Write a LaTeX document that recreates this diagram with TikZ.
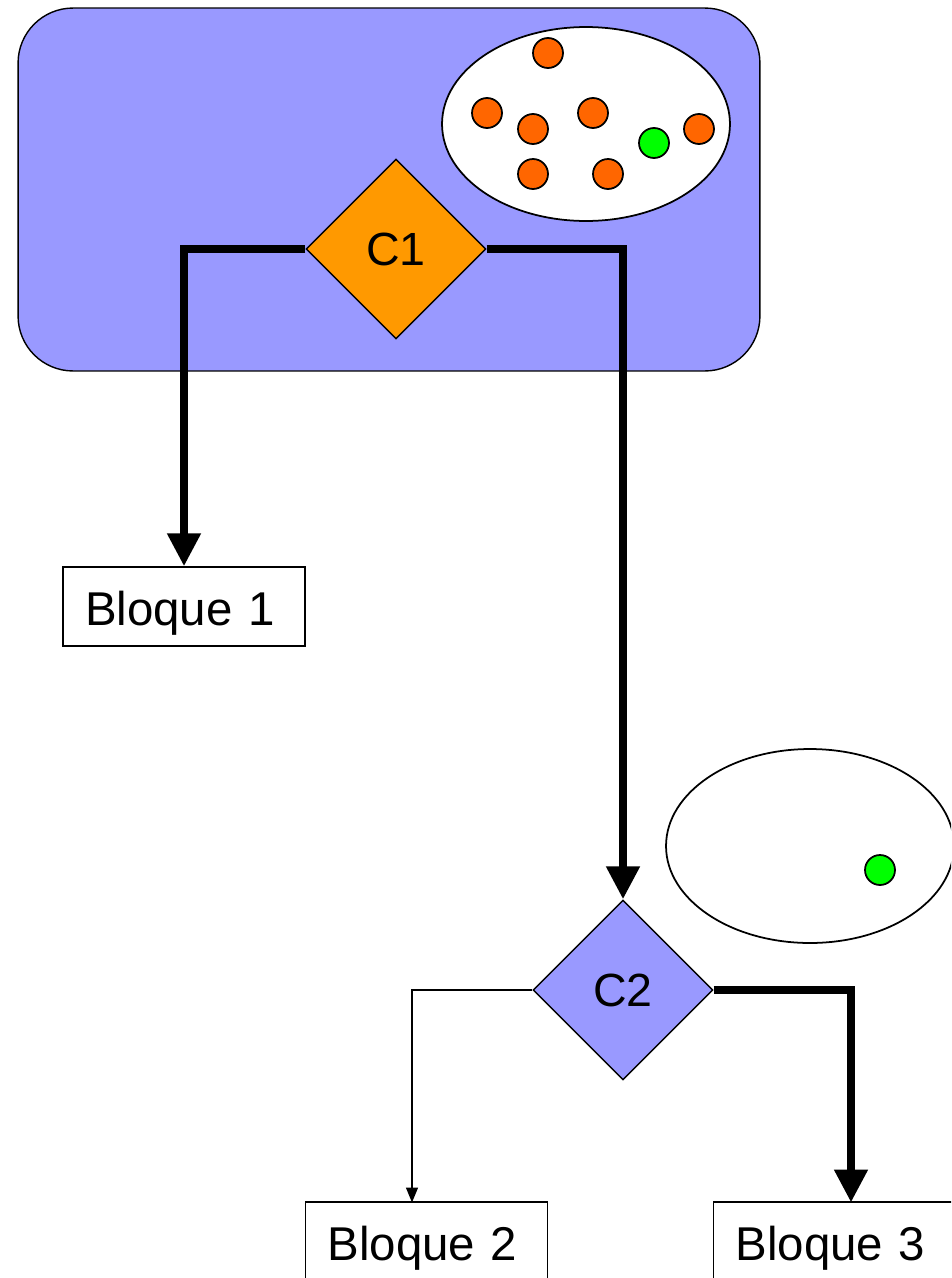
\documentclass[tikz,border=0pt]{standalone}
\usepackage{fontspec}
\setmainfont{Liberation Sans}
\usepackage{xcolor}
\usepackage{tikz}
\usetikzlibrary{shapes,arrows.meta,calc}

\definecolor{lilac}{HTML}{9999FF}
\definecolor{amber}{HTML}{FF9900}
\definecolor{redorange}{HTML}{FF6600}
\definecolor{lime}{HTML}{00FF00}

\begin{document}
\begin{tikzpicture}[x=0.02cm, y=-0.02cm,
    panel/.style={rectangle, draw, line width=0.8pt, fill=lilac, rounded corners=1.1cm, minimum width=14.84cm, minimum height=7.26cm},
    pool/.style={ellipse, draw, line width=1pt, fill=white, minimum width=5.76cm, minimum height=3.88cm},
    ball/.style={circle, draw, line width=1pt, fill=redorange, minimum size=0.6cm, inner sep=0pt},
    cond/.style={diamond, draw, line width=0.8pt, minimum width=3.6cm, minimum height=3.6cm, inner sep=0pt, font=\fontsize{26.5}{30}\selectfont},
    block/.style={rectangle, draw, line width=0.8pt, fill=white, minimum width=4.84cm, minimum height=1.58cm, inner xsep=0.44cm, text width=3.96cm, align=left, text height=0.86cm, text depth=0.12cm, font=\fontsize{27}{30}\selectfont},
    heavy/.style={-{Triangle[width=0.64cm, length=0.66cm]}, line width=4.5pt},
    light/.style={-{Triangle[width=0.24cm, length=0.3cm]}, line width=0.8pt}
]
\clip (0,0) rectangle (951,1278);

% First condition with its set of elements
\node[panel] (panel) at (389,189.5) {};
\node[pool] (set1) at (586,124) {};
\node[ball] (e1) at (548,53) {};
\node[ball] (e2) at (487,113) {};
\node[ball] (e3) at (533,129) {};
\node[ball] (e4) at (593,113) {};
\node[ball] (e5) at (533,174) {};
\node[ball] (e6) at (608,174) {};
\node[ball] (e7) at (699,129) {};
\node[ball, fill=lime] (e8) at (654,143) {};
\node[cond, fill=amber] (c1) at (396,249) {C1};

% Second condition
\node[pool] (set2) at (810,846) {};
\node[ball, fill=lime] (e9) at (880,870) {};
\node[cond, fill=lilac] (c2) at (623,990) {C2};

% Blocks
\node[block] (b1) at (184,606.5) {Bloque 1};
\node[block] (b2) at (426.5,1241.5) {Bloque 2};
\node[block] (b3) at (834.5,1241.5) {Bloque 3};
\coordinate (in2) at (412,1202.5);
\coordinate (in3) at (851,1202.5);

% Arrows
\draw[heavy] (c1.west) -| (b1.north);
\draw[heavy] (c1.east) -| (c2.north);
\draw[light] (c2.west) -| (in2);
\draw[heavy] (c2.east) -| (in3);

\end{tikzpicture}
\end{document}
